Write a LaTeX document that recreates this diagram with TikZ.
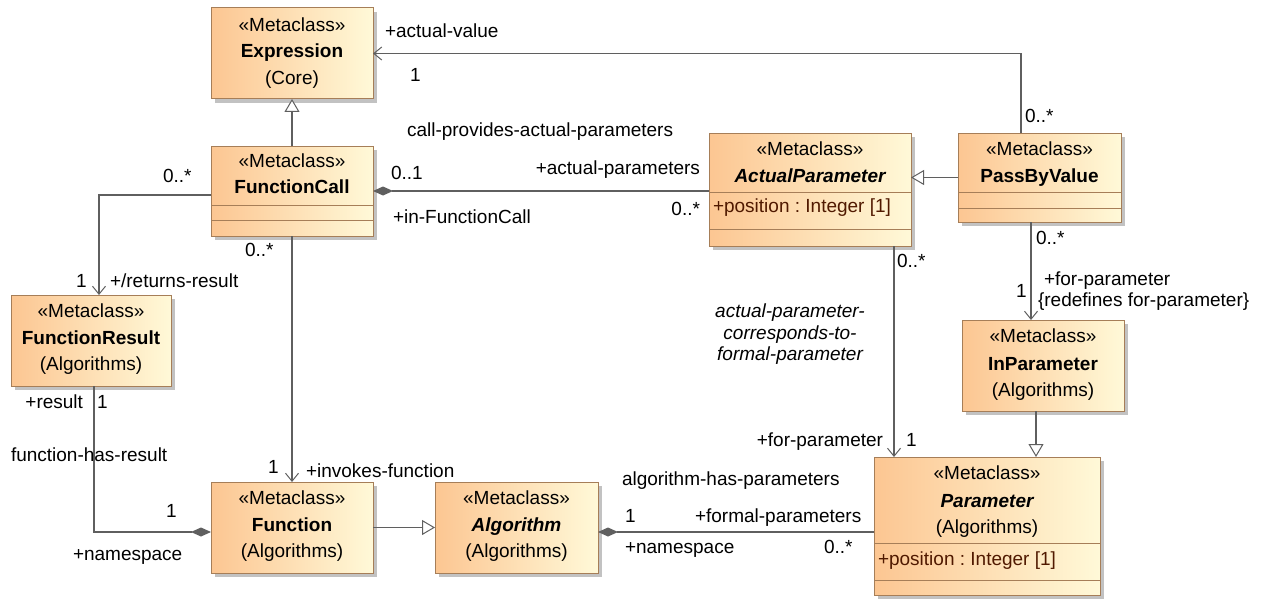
\documentclass[tikz,border=0pt]{standalone}
\usepackage{fontspec}
\setmainfont{Liberation Sans}
\usetikzlibrary{arrows.meta,shadows}
\definecolor{clsL}{RGB}{252,198,146}
\definecolor{clsR}{RGB}{255,249,216}
\definecolor{clsB}{RGB}{166,126,88}
\definecolor{conn}{RGB}{95,95,95}
\definecolor{attr}{RGB}{80,25,0}
\frenchspacing
\begin{document}
\begin{tikzpicture}[x=1pt,y=-1pt,
  every node/.style={font=\fontsize{19}{22}\selectfont, inner sep=0pt, outer sep=0pt},
  cls/.style={draw=clsB, line width=1pt, left color=clsL, right color=clsR, anchor=north west,
    drop shadow={shadow xshift=4pt,shadow yshift=-4pt,fill=black!24,opacity=1}},
  sep/.style={draw=clsB, line width=1pt},
  stereo/.style={anchor=base},
  cname/.style={anchor=base, font=\fontsize{19}{22}\selectfont\bfseries},
  aname/.style={anchor=base, font=\fontsize{19}{22}\selectfont\bfseries\itshape},
  attrtxt/.style={anchor=base west, text=attr},
  lbl/.style={anchor=base west},
  lble/.style={anchor=base east},
  link/.style={draw=conn, line width=1.2pt},
  nav/.style={link, -{Straight Barb[length=8pt,width=13pt,line width=1pt]}},
  gen/.style={link, -{Triangle[open,length=13pt,width=15pt,line width=1pt,fill=white]}},
  comp/.style={link, {Diamond[length=20pt,width=9pt]}-},
]
\useasboundingbox (0,0) rectangle (1265,599);

% ---------- classes ----------
\node[cls, minimum width=162pt, minimum height=91pt] (expr) at (211,8) {};
\node[stereo] (exprS) at (292,32) {«Metaclass»};
\node[cname] (exprN) at (292,58) {Expression};
\node[stereo] (exprP) at (292,85) {(Core)};

\node[cls, minimum width=162pt, minimum height=90pt] (fcall) at (211,146) {};
\draw[sep] (211,205) -- (373,205);
\draw[sep] (211,220) -- (373,220);
\node[stereo] (fcallS) at (292,167) {«Metaclass»};
\node[cname] (fcallN) at (292,193) {FunctionCall};

\node[cls, minimum width=202pt, minimum height=113pt] (actp) at (709,133) {};
\draw[sep] (709,192) -- (911,192);
\draw[sep] (709,229) -- (911,229);
\node[stereo] (actpS) at (810,155) {«Metaclass»};
\node[aname] (actpN) at (810,182) {ActualParameter};
\node[attrtxt] (actpA) at (713,212) {+position : Integer [1]};

\node[cls, minimum width=163pt, minimum height=89pt] (pbv) at (958,133) {};
\draw[sep] (958,192) -- (1121,192);
\draw[sep] (958,208) -- (1121,208);
\node[stereo] (pbvS) at (1039.5,155) {«Metaclass»};
\node[cname] (pbvN) at (1039.5,182) {PassByValue};

\node[cls, minimum width=160pt, minimum height=91pt] (fres) at (11,295) {};
\node[stereo] (fresS) at (91,317) {«Metaclass»};
\node[cname] (fresN) at (91,344) {FunctionResult};
\node[stereo] (fresP) at (91,370) {(Algorithms)};

\node[cls, minimum width=162pt, minimum height=91pt] (func) at (211,482) {};
\node[stereo] (funcS) at (292,504) {«Metaclass»};
\node[cname] (funcN) at (292,531) {Function};
\node[stereo] (funcP) at (292,557) {(Algorithms)};

\node[cls, minimum width=163pt, minimum height=91pt] (algo) at (435,482) {};
\node[stereo] (algoS) at (516.5,504) {«Metaclass»};
\node[aname] (algoN) at (516.5,531) {Algorithm};
\node[stereo] (algoP) at (516.5,557) {(Algorithms)};

\node[cls, minimum width=162pt, minimum height=91pt] (inpar) at (962,320) {};
\node[stereo] (inparS) at (1043,342) {«Metaclass»};
\node[cname] (inparN) at (1043,370) {InParameter};
\node[stereo] (inparP) at (1043,396) {(Algorithms)};

\node[cls, minimum width=226pt, minimum height=138pt] (param) at (874,457) {};
\draw[sep] (874,543) -- (1100,543);
\draw[sep] (874,580) -- (1100,580);
\node[stereo] (paramS) at (987,479) {«Metaclass»};
\node[aname] (paramN) at (987,507) {Parameter};
\node[stereo] (paramP) at (987,533) {(Algorithms)};
\node[attrtxt] (paramA) at (878,565) {+position : Integer [1]};

% ---------- connectors ----------
\draw[gen] (fcall.north) -- (expr.south);
\draw[nav] ([xshift=-18.5pt]pbv.north) |- (expr.east);
\draw[gen] (pbv.west) -- (pbv.west -| actp.east);
\draw[comp] (fcall.east) -- (fcall.east -| actp.west);
\draw[nav] ([yshift=-4pt]fcall.west) -| ([xshift=8pt]fres.north);
\draw[nav] (fcall.south) -- (func.north);
\draw[nav] ([xshift=-8.5pt]pbv.south) -- ([xshift=-8.5pt]pbv.south |- inpar.north);
\draw[nav] ([xshift=84pt]actp.south) -- ([xshift=84pt]actp.south |- param.north);
\draw[gen] ([xshift=-7pt]inpar.south) -- ([xshift=-7pt]inpar.south |- param.north);
\draw[gen] (func.east) -- (algo.west);
\draw[link, -{Diamond[length=20pt,width=9pt]}] ([xshift=3pt]fres.south) |- ([yshift=-4.5pt]func.west);
\draw[comp] ([yshift=-4.5pt]algo.east) -- ([yshift=-4.5pt]algo.east -| param.west);

% ---------- labels ----------
\node[lbl] (l1) at (385,38) {+actual-value};
\node[lbl] (l2) at (410,82) {1};
\node[lbl] (l3) at (1025,123) {0..*};
\node[lbl] (l4) at (407,136) {call-provides-actual-parameters};
\node[lbl] (l5) at (391,179) {0..1};
\node[lble] (l6) at (700,174) {+actual-parameters};
\node[lbl] (l7) at (393,223) {+in-FunctionCall};
\node[lble] (l8) at (700,215) {0..*};
\node[lbl] (l9) at (163,182) {0..*};
\node[lbl] (l10) at (245,256) {0..*};
\node[lbl] (l11) at (1036,244) {0..*};
\node[lbl] (l12) at (897,267) {0..*};
\node[lbl] (l13) at (76,287) {1};
\node[lbl] (l14) at (110,287) {+/returns-result};
\node[lbl] (l15) at (1044,285) {+for-parameter};
\node[lbl] (l16) at (1038,306) {\{redefines for-parameter\}};
\node[lbl] (l17) at (1016,297) {1};
\node[anchor=north, align=center, font=\fontsize{19}{21.5}\selectfont\itshape] (l18) at (790,304)
  {actual-parameter-\\corresponds-to-\\formal-parameter};
\node[lble] (l19) at (83,408) {+result};
\node[lbl] (l20) at (97,408) {1};
\node[lbl] (l21) at (11,461) {function-has-result};
\node[lbl] (l22) at (268,473) {1};
\node[lbl] (l23) at (306,477) {+invokes-function};
\node[lbl] (l24) at (166,517) {1};
\node[lbl] (l25) at (73,560) {+namespace};
\node[lbl] (l26) at (622,485) {algorithm-has-parameters};
\node[lbl] (l27) at (625,522) {1};
\node[lbl] (l28) at (695,522) {+formal-parameters};
\node[lbl] (l29) at (625,553) {+namespace};
\node[lbl] (l30) at (824,553) {0..*};
\node[lble] (l31) at (883,446) {+for-parameter};
\node[lbl] (l32) at (906,446) {1};
\end{tikzpicture}
\end{document}
